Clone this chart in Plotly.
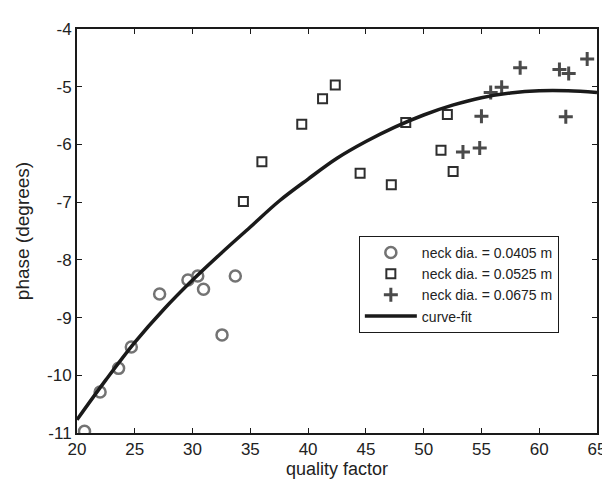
import plotly.graph_objects as go

# neck dia. = 0.0405 m
q_a = [20.65, 22.0, 23.6, 24.7, 27.15, 29.6, 30.45, 30.95, 32.55, 33.7]
p_a = [-10.97, -10.29, -9.88, -9.51, -8.59, -8.35, -8.28, -8.51, -9.30, -8.28]

# neck dia. = 0.0525 m
q_b = [34.4, 36.0, 39.45, 41.25, 42.35, 44.5, 47.2, 48.45, 51.5, 52.05, 52.55]
p_b = [-6.99, -6.30, -5.65, -5.21, -4.97, -6.50, -6.70, -5.62, -6.10, -5.48, -6.47]

# neck dia. = 0.0675 m
q_c = [53.4, 54.85, 55.0, 55.8, 56.75, 58.35, 61.75, 62.55, 62.3, 64.15]
p_c = [-6.13, -6.06, -5.51, -5.10, -5.01, -4.67, -4.70, -4.77, -5.52, -4.52]

# curve-fit
q_fit = [20, 22.5, 25, 27.5, 30, 32.5, 35, 37.5, 40, 42.5, 45, 47.5, 50, 52.5, 55, 57.5, 60, 62.5, 65]
p_fit = [-10.77, -10.08, -9.43, -8.86, -8.35, -7.88, -7.43, -6.98, -6.60, -6.24, -5.95, -5.70, -5.49, -5.32, -5.19, -5.11, -5.07, -5.07, -5.10]

x_ticks = [20, 25, 30, 35, 40, 45, 50, 55, 60, 65]
y_ticks = [-11, -10, -9, -8, -7, -6, -5, -4]

FONT = "Liberation Sans, Arial, sans-serif"

fig = go.Figure()
fig.add_trace(go.Scatter(
    x=q_a, y=p_a, mode="markers", name="neck dia. = 0.0405 m",
    marker=dict(symbol="circle-open", size=11, color="#737373", line=dict(width=2.5, color="#737373")),
))
fig.add_trace(go.Scatter(
    x=q_b, y=p_b, mode="markers", name="neck dia. = 0.0525 m",
    marker=dict(symbol="square-open", size=9, color="#2e2e2e", line=dict(width=2, color="#2e2e2e")),
))
fig.add_trace(go.Scatter(
    x=q_c, y=p_c, mode="markers", name="neck dia. = 0.0675 m",
    marker=dict(symbol="cross-thin-open", size=10, color="#4a4a4a", line=dict(width=3, color="#4a4a4a")),
))
fig.add_trace(go.Scatter(
    x=q_fit, y=p_fit, mode="lines", name="curve-fit", line_shape="spline",
    line=dict(color="#1a1a1a", width=3.5),
))

axis_common = dict(
    showgrid=False, zeroline=False, showline=True, linecolor="#1a1a1a", linewidth=2,
    mirror="ticks", ticks="inside", ticklen=5, tickwidth=1, tickcolor="#1a1a1a",
    tickfont=dict(family=FONT, size=17, color="#222"),
)

fig.update_xaxes(range=[20, 65], tickvals=x_ticks, ticktext=[str(v) for v in x_ticks],
                 title=dict(text="quality factor", font=dict(family=FONT, size=18, color="#222"), standoff=3),
                 **axis_common)
fig.update_yaxes(range=[-11, -4], tickvals=y_ticks, ticktext=[str(v) for v in y_ticks],
                 title=dict(text="phase (degrees)", font=dict(family=FONT, size=19, color="#222"), standoff=12),
                 **axis_common)

fig.update_layout(
    width=610, height=479,
    margin=dict(l=69, r=20, t=18, b=49),
    paper_bgcolor="white", plot_bgcolor="white",
    showlegend=True,
    legend=dict(
        x=0.542, y=0.488, xanchor="left", yanchor="top",
        bgcolor="white", bordercolor="#1a1a1a", borderwidth=1,
        font=dict(family=FONT, size=14, color="#222"),
        itemwidth=52, tracegroupgap=0,
    ),
)

fig.write_html("out.html")
